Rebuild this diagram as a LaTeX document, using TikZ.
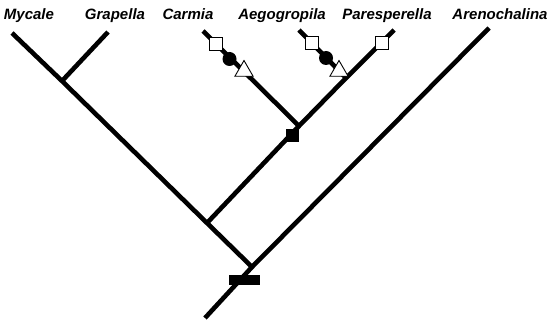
\documentclass[tikz,border=0pt]{standalone}
\usepackage{fontspec}
\setmainfont{Liberation Sans}
\usetikzlibrary{shapes.geometric}
\begin{document}
\begin{tikzpicture}[x=1pt,y=-1pt,
  branch/.style={line width=4.6pt},
  taxon/.style={font=\fontsize{15}{15}\selectfont\bfseries\itshape, anchor=base, inner sep=0pt},
  opensq/.style={draw, line width=0.9pt, fill=white, minimum size=13pt, inner sep=0pt},
  blacksq/.style={fill=black, minimum size=13pt, inner sep=0pt},
  blackbar/.style={fill=black, minimum width=31pt, minimum height=10pt, inner sep=0pt},
  dotmark/.style={circle, fill=black, minimum size=14pt, inner sep=0pt},
  trimark/.style={regular polygon, regular polygon sides=3, draw, line width=0.9pt, fill=white, minimum size=21pt, inner sep=0pt}]
\useasboundingbox (0,0) rectangle (548,323);
% taxon labels
\node[taxon] (lMy) at (29,20) {Mycale};
\node[taxon] (lGr) at (115,20) {Grapella};
\node[taxon] (lCa) at (188,20) {Carmia};
\node[taxon] (lAe) at (282,20) {Aegogropila};
\node[taxon] (lPa) at (387,20) {Paresperella};
\node[taxon] (lAr) at (500,20) {Arenochalina};
% tips
\coordinate (tMy) at (12,33);
\coordinate (tGr) at (108,32);
\coordinate (tCa) at (203,31);
\coordinate (tAe) at (299,30);
\coordinate (tPa) at (394,30);
\coordinate (tAr) at (489,28);
% internal nodes
\coordinate (root) at (205,318);
\coordinate (n1) at (252,267);
\coordinate (n2) at (207,223);
\coordinate (n3) at (299,126);
\coordinate (n4) at (346,78);
\coordinate (n5) at (62,81);
% branches
\draw[branch] (root) -- (n1) -- (tAr);
\draw[branch] (n1) -- (n2) -- (n5) -- (tMy);
\draw[branch] (n5) -- (tGr);
\draw[branch] (n2) -- (n3) -- (n4) -- (tPa);
\draw[branch] (n3) -- (tCa);
\draw[branch] (n4) -- (tAe);
% character markers
\node[blackbar] (mRoot) at (244,280) {};
\node[blacksq] (mCl) at (292,136) {};
\node[opensq] (sCa) at (216,44) {};
\node[dotmark] (cCa) at (229.5,59) {};
\node[trimark] (rCa) at (244,71) {};
\node[opensq] (sAe) at (312,43) {};
\node[dotmark] (cAe) at (326,58) {};
\node[trimark] (rAe) at (339,71) {};
\node[opensq] (sPa) at (382,43) {};
\end{tikzpicture}
\end{document}
